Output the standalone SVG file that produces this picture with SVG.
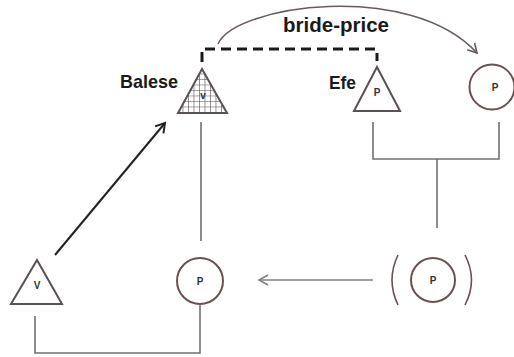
<svg xmlns="http://www.w3.org/2000/svg" width="514" height="357" viewBox="0 0 514 357">
<defs>
<style>
.lbl{font-family:"Liberation Sans",Arial,sans-serif;font-weight:bold;fill:#1a1a1a}
.sm{font-family:"Liberation Sans",Arial,sans-serif;font-weight:bold;fill:#333;font-size:10px;text-anchor:middle}
.tri{fill:none;stroke:#5a5058;stroke-width:2}
.cir{fill:none;stroke:#6b5252;stroke-width:2}
.ln{fill:none;stroke:#707070;stroke-width:1.6}
</style>
<pattern id="grid" width="5.5" height="5.5" patternUnits="userSpaceOnUse" x="1" y="2">
<path d="M0 0H5.5M0 0V5.5" stroke="#4a4048" stroke-width="1.1" fill="none"/>
</pattern>
<marker id="open" markerWidth="12" markerHeight="12" refX="10" refY="6" orient="auto" markerUnits="userSpaceOnUse">
<path d="M1 1L10 6L1 11" fill="none" stroke="context-stroke" stroke-width="1.6"/>
</marker>
<marker id="openb" markerWidth="14" markerHeight="14" refX="11" refY="7" orient="auto" markerUnits="userSpaceOnUse">
<path d="M2 1.5L11 7L2 12.5" fill="none" stroke="#222" stroke-width="2"/>
</marker>
</defs>
<rect width="514" height="357" fill="#ffffff"/>
<g id="connectors">
<path d="M218 44C235 5 410 -20 477 53" fill="none" style="stroke:#6b5a5a;stroke-width:1.6" marker-end="url(#open)"/>
<path d="M202 62V49H377V61" fill="none" stroke="#1a1a1a" stroke-width="3" stroke-dasharray="10 6"/>
<line x1="55" y1="255" x2="165" y2="123" stroke="#222" stroke-width="2" marker-end="url(#openb)"/>
<line x1="201" y1="122" x2="201" y2="241" class="ln"/>
<path d="M373 122V159H499V122" class="ln"/>
<line x1="437" y1="159" x2="437" y2="228" class="ln"/>
<line x1="373" y1="280" x2="259" y2="280" class="ln" marker-end="url(#open)" style="stroke:#808080"/>
<path d="M35 316V353H200V305" class="ln"/>
</g>
<g id="label-bride-price">
<rect x="280" y="13" width="112" height="25" fill="#ffffff"/>
<text x="283" y="32" class="lbl" font-size="20" textLength="106" lengthAdjust="spacingAndGlyphs">bride-price</text>
</g>
<g id="balese">
<text x="120" y="88" class="lbl" font-size="19" textLength="58" lengthAdjust="spacingAndGlyphs">Balese</text>
<path d="M202 69L227 113H178Z" fill="url(#grid)"/>
<path d="M202 69L227 113H178Z" class="tri"/>
<text x="203" y="99" class="sm">v</text>
</g>
<g id="efe">
<text x="329" y="89" class="lbl" font-size="19" textLength="27" lengthAdjust="spacingAndGlyphs">Efe</text>
<path d="M377 67L400 111H354Z" class="tri"/>
<text x="377" y="96" class="sm">P</text>
</g>
<g id="wife">
<circle cx="492" cy="87" r="22.5" class="cir"/>
<text x="495" y="91" class="sm">P</text>
</g>
<g id="child">
<path d="M398 255Q386 280 398 305" class="cir" style="stroke-width:1.6"/>
<circle cx="433" cy="280" r="22" class="cir"/>
<path d="M465 255Q478 280 465 305" class="cir" style="stroke-width:1.6"/>
<text x="433" y="284" class="sm">P</text>
</g>
<g id="daughter">
<circle cx="200" cy="281" r="23" class="cir"/>
<text x="200" y="285" class="sm">P</text>
</g>
<g id="balese-man">
<path d="M37 260L62 304H11Z" class="tri"/>
<text x="37" y="289" class="sm">V</text>
</g>
</svg>
